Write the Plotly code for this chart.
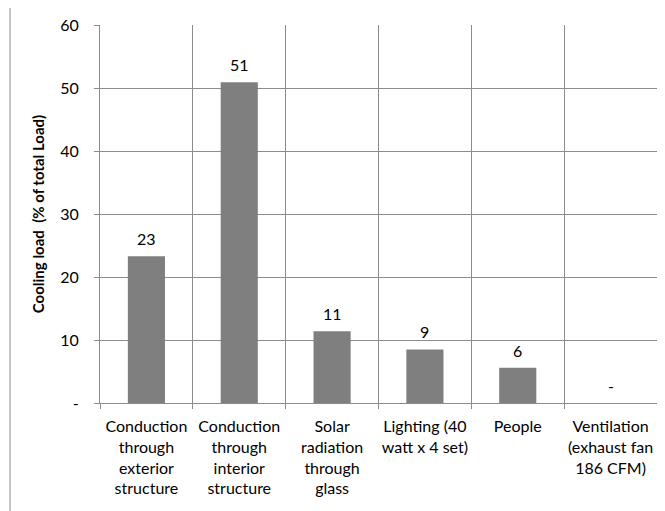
import plotly.graph_objects as go

categories = [
    "Conduction<br>through<br>exterior<br>structure",
    "Conduction<br>through<br>interior<br>structure",
    "Solar<br>radiation<br>through<br>glass",
    "Lighting (40<br>watt x 4 set)",
    "People",
    "Ventilation<br>(exhaust fan<br>186 CFM)",
]
values = [23.3, 50.9, 11.4, 8.5, 5.6, 0]
y_tickvals = [0, 10, 20, 30, 40, 50, 60]
y_ticktext = ["-", "10", "20", "30", "40", "50", "60"]
y_title = "Cooling load  (% of total Load)"

labels = ["-" if v == 0 else str(int(v + 0.5)) for v in values]
xpos = list(range(len(categories)))
boundaries = [i - 0.5 for i in range(len(categories) + 1)]

FONT = "Lato, 'Open Sans', sans-serif"
GRID = "#8c8c8c"
FS = 16

fig = go.Figure()
fig.add_trace(go.Bar(
    x=xpos, y=values, width=0.4,
    marker=dict(color="#7f7f7f", line=dict(width=0)),
    xaxis="x", yaxis="y", hoverinfo="y",
))
fig.add_trace(go.Scatter(x=xpos, y=[None] * len(xpos), xaxis="x2", yaxis="y",
                         showlegend=False, hoverinfo="skip"))

annotations = [
    dict(x=xi, y=v, xref="x", yref="y", text=t, showarrow=False,
         yanchor="bottom", yshift=6,
         font=dict(family=FONT, size=FS, color="#000"))
    for xi, v, t in zip(xpos, values, labels)
]

fig.update_layout(
    width=657, height=503,
    margin=dict(l=92, r=8, t=17, b=108),
    paper_bgcolor="white", plot_bgcolor="white",
    showlegend=False,
    font=dict(family=FONT, size=FS, color="#000"),
    annotations=annotations,
    xaxis=dict(
        range=[-0.5, 5.5], tickvals=boundaries, showticklabels=False,
        showgrid=True, gridcolor=GRID, gridwidth=1,
        ticks="outside", ticklen=5, tickcolor=GRID,
        showline=True, linecolor=GRID, linewidth=1, zeroline=False,
    ),
    xaxis2=dict(
        range=[-0.5, 5.5], overlaying="x", anchor="y", side="bottom",
        tickvals=xpos, ticktext=categories, ticks="", showgrid=False,
        showline=False, zeroline=False, ticklabelstandoff=12,
        tickfont=dict(family=FONT, size=FS, color="#000"),
    ),
    yaxis=dict(
        range=[0, 60], tickvals=y_tickvals, ticktext=y_ticktext,
        showgrid=True, gridcolor=GRID, gridwidth=1,
        ticks="outside", ticklen=5, tickcolor=GRID,
        showline=True, linecolor=GRID, linewidth=1, zeroline=False,
        ticklabelstandoff=12,
        tickfont=dict(family=FONT, size=FS, color="#000"),
        title=dict(text=y_title, standoff=11,
                   font=dict(family=FONT, size=15, color="#000", weight="bold")),
    ),
    shapes=[dict(type="rect", xref="paper", yref="paper",
                 x0=-0.1616, x1=1.2, y0=-0.4, y1=1.0503,
                 line=dict(color=GRID, width=1), fillcolor="rgba(0,0,0,0)",
                 layer="below")],
)

fig.write_html("out.html")
